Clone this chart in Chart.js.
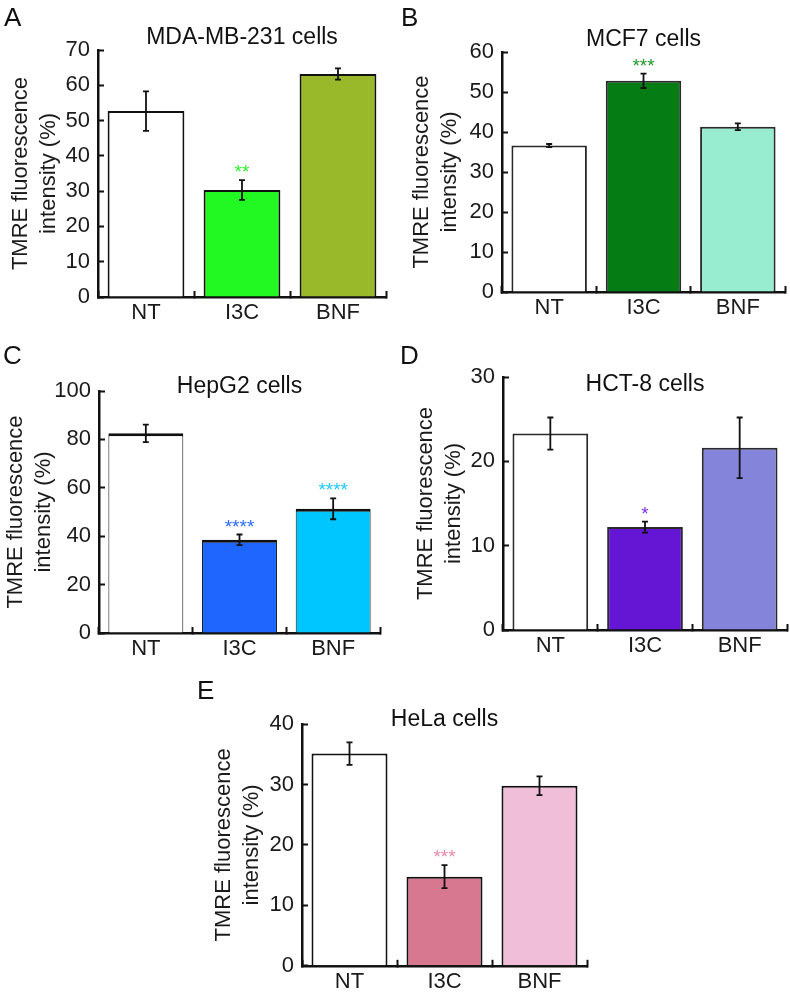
<!DOCTYPE html>
<html>
<head>
<meta charset="utf-8">
<script src="https://cdn.jsdelivr.net/npm/chart.js@4.4.1/dist/chart.umd.min.js"></script>
<style>
  body { margin: 0; background: #fff; }
  #fig { position: relative; width: 790px; height: 993px; overflow: hidden; }
  #fig canvas { position: absolute; }
  .letter { position: absolute; font: 26px "Liberation Sans", Arial, sans-serif; line-height: 1; color: #111; }
</style>
</head>
<body>
<div id="fig">
  <canvas id="chartA" width="395" height="335" style="left:0;top:0"></canvas>
  <canvas id="chartB" width="395" height="335" style="left:395px;top:0"></canvas>
  <canvas id="chartC" width="395" height="335" style="left:0;top:330px"></canvas>
  <canvas id="chartD" width="395" height="335" style="left:395px;top:330px"></canvas>
  <canvas id="chartE" width="420" height="333" style="left:190px;top:660px"></canvas>
  <div class="letter" style="left:4px;top:4px">A</div>
  <div class="letter" style="left:401px;top:4px">B</div>
  <div class="letter" style="left:3px;top:342px">C</div>
  <div class="letter" style="left:400px;top:342px">D</div>
  <div class="letter" style="left:197px;top:677px">E</div>
</div>
<script>
// data
var categories = ['NT', 'I3C', 'BNF'];

var mdaValues = [52.7, 30.3, 63.2];
var mdaErrors = [5.6, 2.8, 1.6];
var mdaStars = ['', '**', ''];
var mdaTicks = [0, 10, 20, 30, 40, 50, 60, 70];

var mcfValues = [36.6, 52.8, 41.3];
var mcfErrors = [0.4, 1.8, 0.85];
var mcfStars = ['', '***', ''];
var mcfTicks = [0, 10, 20, 30, 40, 50, 60];

var hepValues = [82.5, 38.5, 51.3];
var hepErrors = [3.6, 2.2, 4.3];
var hepStars = ['', '****', '****'];
var hepTicks = [0, 20, 40, 60, 80, 100];

var hctValues = [23.3, 12.2, 21.6];
var hctErrors = [1.9, 0.65, 3.6];
var hctStars = ['', '*', ''];
var hctTicks = [0, 10, 20, 30];

var helaValues = [35.1, 14.75, 29.8];
var helaErrors = [1.85, 1.9, 1.55];
var helaStars = ['', '***', ''];
var helaTicks = [0, 10, 20, 30, 40];

var FONT = '"Liberation Sans", Arial, sans-serif';
Chart.defaults.font.family = FONT;
Chart.defaults.color = '#1a1a1a';

// error bars, stars and the panel title
var extras = {
  id: 'extras',
  afterDatasetsDraw: function (chart, args, opts) {
    var ctx = chart.ctx;
    var y = chart.scales.y;
    var meta = chart.getDatasetMeta(0);
    ctx.save();
    meta.data.forEach(function (bar, i) {
      var v = opts.values[i], e = opts.errors[i];
      var top = y.getPixelForValue(v + e);
      var bot = y.getPixelForValue(v - e);
      ctx.strokeStyle = '#111';
      ctx.lineWidth = 1.8;
      ctx.beginPath();
      ctx.moveTo(bar.x, top); ctx.lineTo(bar.x, bot);
      ctx.moveTo(bar.x - 3, top); ctx.lineTo(bar.x + 3, top);
      ctx.moveTo(bar.x - 3, bot); ctx.lineTo(bar.x + 3, bot);
      ctx.stroke();
      if (opts.stars[i]) {
        ctx.fillStyle = opts.starColors[i];
        ctx.font = '19px ' + FONT;
        ctx.textAlign = 'center';
        ctx.textBaseline = 'alphabetic';
        ctx.fillText(opts.stars[i], bar.x, top - 2);
      }
    });
    var a = chart.chartArea;
    ctx.fillStyle = '#111';
    ctx.font = '23px ' + FONT;
    ctx.textAlign = 'center';
    ctx.textBaseline = 'middle';
    ctx.fillText(opts.title, (a.left + a.right) / 2, a.top + opts.titleDy);
    ctx.restore();
  }
};

function makePanel(id, p) {
  var ticks = p.ticks;
  return new Chart(document.getElementById(id), {
    type: 'bar',
    data: {
      labels: categories,
      datasets: [{
        data: p.values,
        backgroundColor: p.colors,
        borderColor: p.borderColor || '#111',
        borderWidth: p.borderWidth || 2,
        barPercentage: 0.8,
        categoryPercentage: 1.0
      }]
    },
    options: {
      responsive: false,
      animation: false,
      layout: { padding: { top: p.padTop, right: p.padRight, left: 0, bottom: 0 } },
      plugins: {
        legend: { display: false },
        tooltip: { enabled: false },
        extras: {
          values: p.values, errors: p.errors, stars: p.stars,
          starColors: p.starColors, title: p.title, titleDy: p.titleDy
        }
      },
      scales: {
        x: {
          offset: true,
          grid: { offset: true, drawOnChartArea: false, tickLength: -6, tickWidth: 2, tickColor: '#111' },
          border: { color: '#111', width: 2.5 },
          ticks: { padding: 9, font: { size: 22 }, color: '#1a1a1a' },
          afterFit: function (s) { s.height = p.xHeight; }
        },
        y: {
          min: ticks[0],
          max: ticks[ticks.length - 1],
          ticks: { stepSize: ticks[1] - ticks[0], padding: 14, font: { size: 22 }, color: '#1a1a1a' },
          grid: { drawOnChartArea: false, tickLength: -6, tickWidth: 2, tickColor: '#111' },
          border: { color: '#111', width: 2.5 },
          title: {
            display: true,
            text: ['TMRE fluorescence', 'intensity (%)'],
            font: { size: 22, lineHeight: 28 / 22 },
            color: '#1a1a1a',
            padding: { top: p.titlePad, bottom: 0 }
          },
          afterFit: function (s) { s.width = p.yWidth; }
        }
      }
    },
    plugins: [extras]
  });
}

makePanel('chartA', {
  values: mdaValues, errors: mdaErrors, stars: mdaStars, ticks: mdaTicks,
  colors: ['#ffffff', '#22f922', '#99b92b'],
  starColors: ['', '#33ee33', ''],
  title: 'MDA-MB-231 cells', titleDy: -12,
  padTop: 50, padRight: 9, yWidth: 98, xHeight: 38, titlePad: 7
});

makePanel('chartB', {
  values: mcfValues, errors: mcfErrors, stars: mcfStars, ticks: mcfTicks,
  colors: ['#ffffff', '#067d14', '#98ecd0'],
  starColors: ['', '#1e9a2c', ''],
  borderColor: '#2a2a2a',
  title: 'MCF7 cells', titleDy: -12,
  padTop: 52, padRight: 5, yWidth: 107, xHeight: 43, titlePad: 13
});

makePanel('chartC', {
  values: hepValues, errors: hepErrors, stars: hepStars, ticks: hepTicks,
  colors: ['#ffffff', '#1f66ff', '#00c6ff'],
  starColors: ['', '#2a6cff', '#1ec8ff'],
  borderWidth: { top: 3, left: 1, right: 1, bottom: 0 },
  title: 'HepG2 cells', titleDy: -4,
  padTop: 61, padRight: 15, yWidth: 99, xHeight: 32, titlePad: 2
});

makePanel('chartD', {
  values: hctValues, errors: hctErrors, stars: hctStars, ticks: hctTicks,
  colors: ['#ffffff', '#6416d4', '#8484da'],
  starColors: ['', '#7a35e0', ''],
  borderColor: '#2a2a2a',
  title: 'HCT-8 cells', titleDy: 8,
  padTop: 47, padRight: 3, yWidth: 108, xHeight: 35, titlePad: 17
});

makePanel('chartE', {
  values: helaValues, errors: helaErrors, stars: helaStars, ticks: helaTicks,
  colors: ['#ffffff', '#d77790', '#f0bed8'],
  starColors: ['', '#e58aa6', ''],
  title: 'HeLa cells', titleDy: -4,
  padTop: 64, padRight: 23, yWidth: 112, xHeight: 25, titlePad: 20
});
</script>
</body>
</html>
